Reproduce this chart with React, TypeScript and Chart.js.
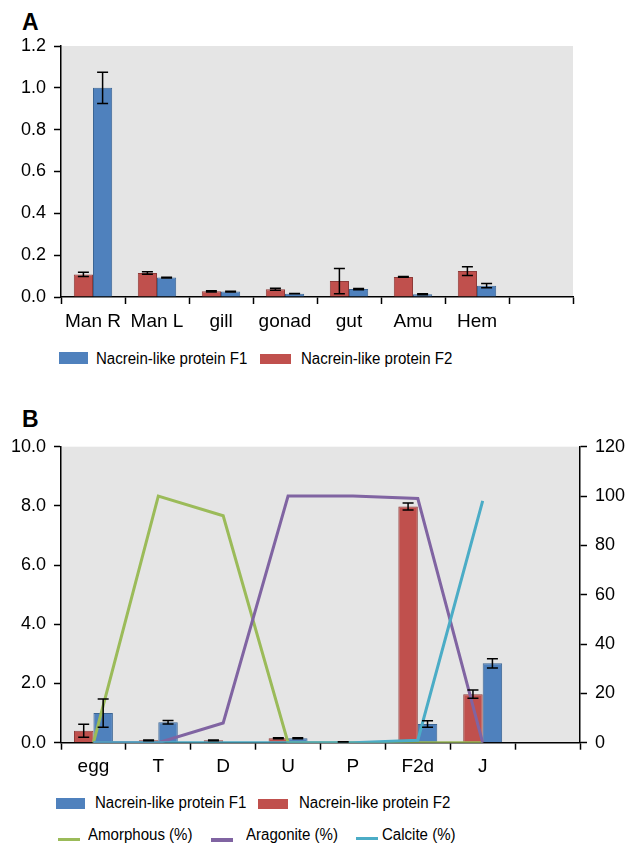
import React, { useEffect, useRef } from 'react';
import { Chart, registerables } from 'chart.js';

Chart.register(...registerables);

// ---------- Panel A data ----------
const tissueLabels = ['Man R', 'Man L', 'gill', 'gonad', 'gut', 'Amu', 'Hem', ''];
const tissueF1 = [1.0, 0.093, 0.026, 0.016, 0.038, 0.013, 0.054, 0];
const tissueF1Err = [0.075, 0.002, 0.002, 0.001, 0.003, 0.002, 0.01, 0];
const tissueF2 = [0.108, 0.115, 0.027, 0.037, 0.076, 0.096, 0.124, 0];
const tissueF2Err = [0.01, 0.006, 0.003, 0.005, 0.06, 0.002, 0.021, 0];
const tissueTicks = [0, 0.2, 0.4, 0.6, 0.8, 1.0, 1.2];

// ---------- Panel B data ----------
const stageLabels = ['egg', 'T', 'D', 'U', 'P', 'F2d', 'J', ''];
const stageF1 = [1.0, 0.69, 0.02, 0.15, 0.03, 0.63, 2.68, 0];
const stageF1Err = [0.48, 0.06, 0, 0.02, 0, 0.11, 0.16, 0];
const stageF2 = [0.4, 0.08, 0.08, 0.15, 0.03, 7.98, 1.64, 0];
const stageF2Err = [0.22, 0.01, 0.01, 0.02, 0.005, 0.12, 0.14, 0];
const amorphous = [0, 100, 92, 0, 0, 0, 0, null];
const aragonite = [0, 0, 8, 100, 100, 99, 0, null];
const calcite = [0, 0, 0, 0, 0, 1, 98, null];
const leftTicksB = [0, 2, 4, 6, 8, 10];
const rightTicksB = [0, 20, 40, 60, 80, 100, 120];

const legendBars = ['Nacrein-like protein F1', 'Nacrein-like protein F2'];
const legendLines = ['Amorphous (%)', 'Aragonite (%)', 'Calcite (%)'];

const BLUE = '#4F81BD';
const BLUE_B = '#3B6594';
const RED = '#C0504D';
const RED_B = '#8E3A38';
const GREEN = '#9BBB59';
const PURPLE = '#8064A2';
const CYAN = '#4BACC6';
const BG = '#E5E5E5';
const FONT = '"Liberation Sans", Arial, Helvetica, sans-serif';

Chart.defaults.font.family = FONT;
Chart.defaults.color = '#000';

const bgPlugin = {
  id: 'plotBg',
  beforeDraw(chart: any) {
    const { ctx, chartArea } = chart;
    ctx.save();
    ctx.fillStyle = BG;
    ctx.fillRect(chartArea.left, chartArea.top, chartArea.right - chartArea.left, chartArea.bottom - chartArea.top);
    ctx.restore();
  },
};

const errorPlugin = {
  id: 'errBars',
  afterDatasetsDraw(chart: any) {
    const ctx = chart.ctx;
    chart.data.datasets.forEach((ds: any, i: number) => {
      const errs = ds.errors;
      if (!errs) return;
      const meta = chart.getDatasetMeta(i);
      const ys = chart.scales[meta.yAxisID];
      ctx.save();
      ctx.strokeStyle = '#000';
      ctx.lineWidth = 1.5;
      meta.data.forEach((el: any, j: number) => {
        const v = ds.data[j];
        const e = errs[j];
        if (v == null || !e) return;
        const x = el.x;
        const yH = ys.getPixelForValue(v + e);
        const yL = ys.getPixelForValue(Math.max(v - e, 0));
        const cw = 5.5;
        ctx.beginPath();
        ctx.moveTo(x, yH);
        ctx.lineTo(x, yL);
        ctx.moveTo(x - cw, yH);
        ctx.lineTo(x + cw, yH);
        ctx.moveTo(x - cw, yL);
        ctx.lineTo(x + cw, yL);
        ctx.stroke();
      });
      ctx.restore();
    });
  },
};

function axisCommon(tickFmt: (v: number) => string, ticks: number[], width: number, position: string) {
  return {
    position,
    min: ticks[0],
    max: ticks[ticks.length - 1],
    afterBuildTicks: (s: any) => {
      s.ticks = ticks.map((v) => ({ value: v }));
    },
    afterFit: (s: any) => {
      s.width = width;
    },
    border: { display: true, color: '#000', width: 1.5 },
    grid: {
      display: true,
      drawOnChartArea: false,
      drawTicks: true,
      tickLength: 7,
      tickColor: '#000',
      tickWidth: 1.5,
      color: '#000',
    },
    ticks: {
      padding: 8,
      color: '#000',
      font: { size: 18, family: FONT },
      callback: (v: any) => tickFmt(Number(v)),
    },
  };
}

function xAxis(height: number) {
  return {
    type: 'category',
    offset: true,
    afterFit: (s: any) => {
      s.height = height;
    },
    border: { display: true, color: '#000', width: 1.5 },
    grid: {
      display: true,
      offset: true,
      drawOnChartArea: false,
      drawTicks: true,
      tickLength: 7,
      tickColor: '#000',
      tickWidth: 1.5,
      color: '#000',
    },
    ticks: {
      autoSkip: false,
      maxRotation: 0,
      padding: 6,
      color: '#000',
      font: { size: 19, family: FONT },
    },
  };
}

function barDs(label: string, data: number[], errors: number[], color: string, border: string, axis: string) {
  return {
    type: 'bar',
    label,
    data,
    errors,
    backgroundColor: color,
    borderColor: border,
    borderWidth: 1,
    categoryPercentage: 0.6,
    barPercentage: 1,
    yAxisID: axis,
    order: 10,
  };
}

function lineDs(label: string, data: (number | null)[], color: string, order: number) {
  return {
    type: 'line',
    label,
    data,
    borderColor: color,
    backgroundColor: color,
    borderWidth: 3,
    pointRadius: 0,
    pointHoverRadius: 0,
    tension: 0,
    fill: false,
    spanGaps: false,
    yAxisID: 'y1',
    order,
  };
}

function PanelA() {
  const ref = useRef<HTMLCanvasElement | null>(null);
  useEffect(() => {
    if (!ref.current) return;
    const chart = new Chart(ref.current, {
      type: 'bar',
      data: {
        labels: tissueLabels,
        datasets: [
          barDs(legendBars[1], tissueF2, tissueF2Err, RED, RED_B, 'y') as any,
          barDs(legendBars[0], tissueF1, tissueF1Err, BLUE, BLUE_B, 'y') as any,
        ],
      },
      options: {
        responsive: false,
        animation: false,
        devicePixelRatio: 1,
        layout: { padding: { top: 46, right: 57, left: 0, bottom: 0 } },
        plugins: { legend: { display: false }, tooltip: { enabled: false } },
        scales: {
          x: xAxis(43) as any,
          y: axisCommon((v) => v.toFixed(1), tissueTicks, 61, 'left') as any,
        },
      },
      plugins: [bgPlugin, errorPlugin],
    });
    return () => chart.destroy();
  }, []);
  return <canvas ref={ref} width={630} height={340} style={{ position: 'absolute', left: 0, top: 0 }} />;
}

function PanelB() {
  const ref = useRef<HTMLCanvasElement | null>(null);
  useEffect(() => {
    if (!ref.current) return;
    const chart = new Chart(ref.current, {
      type: 'bar',
      data: {
        labels: stageLabels,
        datasets: [
          barDs(legendBars[1], stageF2, stageF2Err, RED, RED_B, 'y') as any,
          barDs(legendBars[0], stageF1, stageF1Err, BLUE, BLUE_B, 'y') as any,
          lineDs(legendLines[0], amorphous, GREEN, 3) as any,
          lineDs(legendLines[1], aragonite, PURPLE, 2) as any,
          lineDs(legendLines[2], calcite, CYAN, 1) as any,
        ],
      },
      options: {
        responsive: false,
        animation: false,
        devicePixelRatio: 1,
        layout: { padding: { top: 66.7, right: 0, left: 0, bottom: 0 } },
        plugins: { legend: { display: false }, tooltip: { enabled: false } },
        scales: {
          x: xAxis(37.3) as any,
          y: axisCommon((v) => v.toFixed(1), leftTicksB, 61, 'left') as any,
          y1: axisCommon((v) => String(Math.round(v)), rightTicksB, 50, 'right') as any,
        },
      },
      plugins: [bgPlugin, errorPlugin],
    });
    return () => chart.destroy();
  }, []);
  return <canvas ref={ref} width={630} height={400} style={{ position: 'absolute', left: 0, top: 380 }} />;
}

const textStyle = (left: number, top: number): React.CSSProperties => ({
  position: 'absolute',
  left,
  top,
  fontFamily: FONT,
  fontSize: 16,
  lineHeight: '16px',
  color: '#000',
  whiteSpace: 'nowrap',
  transform: 'scaleX(0.94)',
  transformOrigin: 'left top',
});

const boxStyle = (left: number, top: number, w: number, h: number, color: string): React.CSSProperties => ({
  position: 'absolute',
  left,
  top,
  width: w,
  height: h,
  background: color,
});

const panelLabel = (left: number, top: number): React.CSSProperties => ({
  position: 'absolute',
  left,
  top,
  fontFamily: FONT,
  fontSize: 23,
  fontWeight: 'bold',
  lineHeight: '23px',
  color: '#000',
});

export default function App() {
  return (
    <div style={{ position: 'absolute', left: 0, top: 0, width: 630, height: 849, background: '#fff', overflow: 'hidden' }}>
      <div style={panelLabel(22, 11)}>A</div>
      <PanelA />
      <div style={boxStyle(59, 352, 29, 12, BLUE)} />
      <div style={textStyle(96, 351.2)}>{legendBars[0]}</div>
      <div style={boxStyle(260, 354, 31, 10, RED)} />
      <div style={textStyle(300.7, 351.2)}>{legendBars[1]}</div>

      <div style={panelLabel(22, 408)}>B</div>
      <PanelB />
      <div style={boxStyle(56, 798, 29, 11, BLUE)} />
      <div style={textStyle(94.7, 794.6)}>{legendBars[0]}</div>
      <div style={boxStyle(258, 799, 30, 10, RED)} />
      <div style={textStyle(298.7, 794.6)}>{legendBars[1]}</div>

      <div style={boxStyle(58, 838, 22, 3, GREEN)} />
      <div style={textStyle(87.7, 827.2)}>{legendLines[0]}</div>
      <div style={boxStyle(211, 838, 22, 4, PURPLE)} />
      <div style={textStyle(246, 827.2)}>{legendLines[1]}</div>
      <div style={boxStyle(356, 837, 22, 3, CYAN)} />
      <div style={textStyle(381.7, 827.2)}>{legendLines[2]}</div>
    </div>
  );
}
